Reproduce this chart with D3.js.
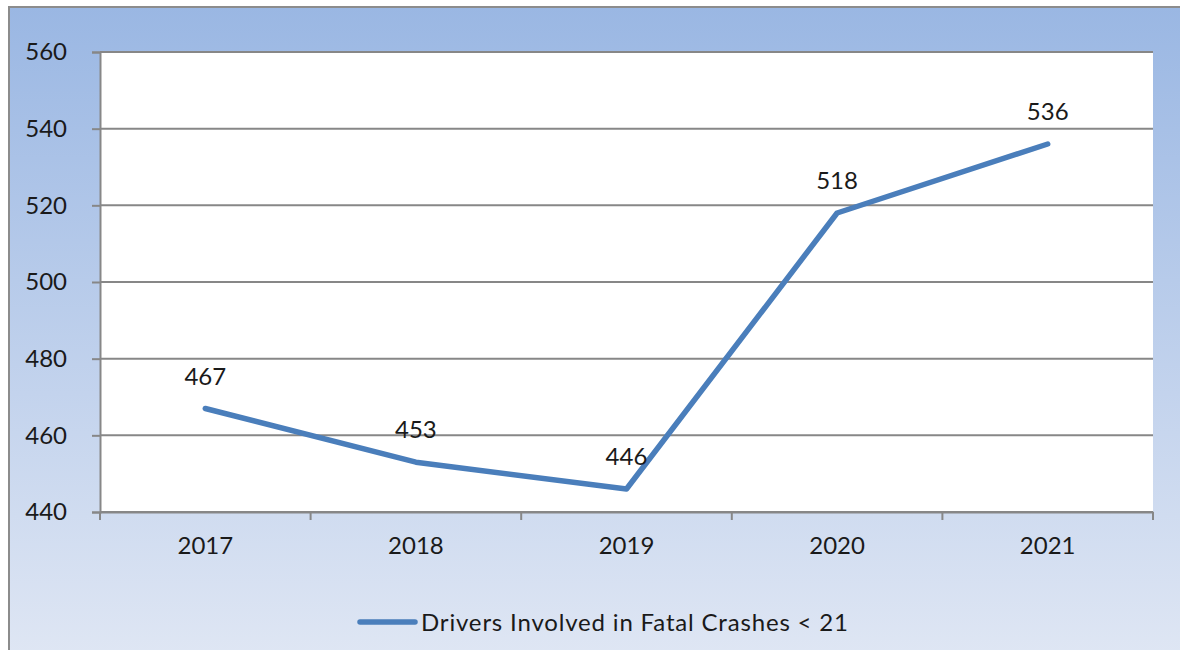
<!DOCTYPE html>
<html>
<head>
<meta charset="utf-8">
<script src="https://cdn.jsdelivr.net/npm/d3@7/dist/d3.min.js"></script>
<style>
html,body{margin:0;padding:0;background:#fff;}
svg{display:block;}
text{font-family:Lato, "Open Sans", sans-serif;fill:#1a1a1a;}
</style>
</head>
<body>
<svg id="chart" width="1180" height="650"></svg>
<script>
const years = ["2017","2018","2019","2020","2021"];
const drivers = [467, 453, 446, 518, 536];
const yTicks = [440, 460, 480, 500, 520, 540, 560];
const seriesName = "Drivers Involved in Fatal Crashes < 21";

const W = 1180, H = 650;
const FS = "24px";
const svg = d3.select("#chart");
const defs = svg.append("defs");
const grad = defs.append("linearGradient").attr("id","bg").attr("x1",0).attr("y1",0).attr("x2",0).attr("y2",1);
grad.append("stop").attr("offset","0%").attr("stop-color","#9ab7e3");
grad.append("stop").attr("offset","100%").attr("stop-color","#e0e7f4");

// frame
svg.append("rect").attr("x",9).attr("y",7).attr("width",W+10).attr("height",H+10)
  .attr("fill","url(#bg)").attr("stroke","#8c8c8c").attr("stroke-width",2);

const m = {left:100, top:52, right:1153, bottom:512};
const x = d3.scaleBand().domain(years).range([m.left, m.right]);
const y = d3.scaleLinear().domain([440,560]).range([m.bottom, m.top]);

// plot area
svg.append("rect").attr("x",m.left).attr("y",m.top).attr("width",m.right-m.left).attr("height",m.bottom-m.top).attr("fill","#fff");

// gridlines
svg.append("g").selectAll("line").data(yTicks).join("line")
  .attr("x1",m.left).attr("x2",m.right).attr("y1",d=>y(d)).attr("y2",d=>y(d))
  .attr("stroke","#878787").attr("stroke-width",2);

// y axis
const yAxis = svg.append("g").attr("transform",`translate(${m.left},0)`)
  .call(d3.axisLeft(y).tickValues(yTicks).tickSize(8).tickPadding(25));
yAxis.select(".domain").attr("stroke","#878787").attr("stroke-width",2);
yAxis.selectAll(".tick line").attr("stroke","#878787").attr("stroke-width",2);
yAxis.selectAll("text").style("font-size",FS).attr("fill","#1a1a1a").style("font-family","Lato, sans-serif");

// x axis
const xAxis = svg.append("g").attr("transform",`translate(0,${m.bottom})`)
  .call(d3.axisBottom(x).tickSize(0).tickPadding(25));
xAxis.select(".domain").attr("stroke","#878787").attr("stroke-width",2);
xAxis.selectAll("text").style("font-size",FS).attr("fill","#1a1a1a").style("font-family","Lato, sans-serif");
// x tick marks at band boundaries
const bounds = years.map(d=>x(d)).concat([x(years[years.length-1])+x.bandwidth()]);
xAxis.append("g").selectAll("line").data(bounds).join("line")
  .attr("x1",d=>d).attr("x2",d=>d).attr("y1",0).attr("y2",8)
  .attr("stroke","#878787").attr("stroke-width",2);

// line
const cx = d=>x(d)+x.bandwidth()/2;
const line = d3.line().x((d,i)=>cx(years[i])).y(d=>y(d));
svg.append("path").datum(drivers).attr("d",line).attr("fill","none")
  .attr("stroke","#4a7ebb").attr("stroke-width",5.5).attr("stroke-linecap","round").attr("stroke-linejoin","round");

// data labels
svg.append("g").selectAll("text").data(drivers).join("text")
  .attr("x",(d,i)=>cx(years[i])).attr("y",d=>y(d)-24)
  .attr("text-anchor","middle").style("font-size",FS).text(d=>d);

// legend
const lg = svg.append("g");
lg.append("line").attr("x1",360).attr("x2",415).attr("y1",622).attr("y2",622)
  .attr("stroke","#4a7ebb").attr("stroke-width",5.5).attr("stroke-linecap","round");
lg.append("text").attr("x",421).attr("y",631).style("font-size",FS)
  .attr("textLength",427).attr("lengthAdjust","spacing").text(seriesName);
</script>
</body>
</html>
